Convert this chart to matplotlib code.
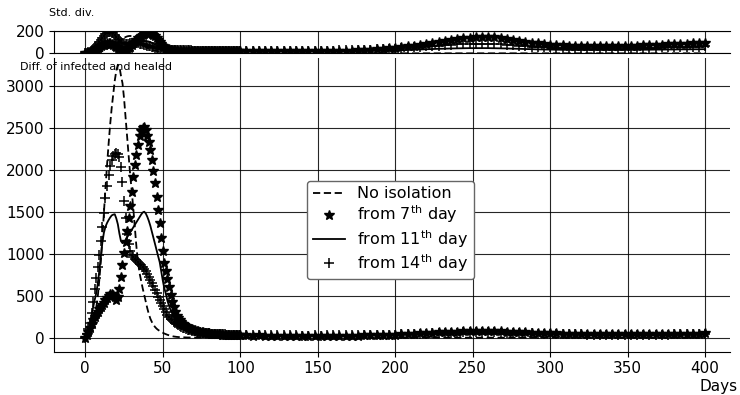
import matplotlib
matplotlib.use("Agg")
import matplotlib.pyplot as plt
import numpy as np

# days: every day up to 99, then every 4th day up to 400
days_early = list(range(0, 100))
days_late = list(range(100, 401, 4))

labels = ["No isolation", r"from 7$^{\rm th}$ day", r"from 11$^{\rm th}$ day", r"from 14$^{\rm th}$ day"]

# ---- difference of infected and healed (mean) ----
diff_none = [
    0, 15, 35, 65, 110, 170, 250, 350, 480, 680,
    900, 1200, 1500, 1780, 2050, 2300, 2530, 2730, 2900, 3060,
    3180, 3250, 3230, 3120, 3030, 2850, 2620, 2380, 2150, 1930,
    1740, 1530, 1300, 1080, 900, 770, 680, 590, 510, 430,
    350, 280, 225, 185, 152, 127, 107, 92, 80, 68,
    58, 49, 41, 34, 28, 23, 18, 14, 11, 9,
    7, 6, 5, 4, 3, 3, 2, 2, 2, 1,
    1, 1, 1, 1, 1, 1, 1, 1, 1, 1,
    0, 0, 0, 0, 0, 0, 0, 0, 0, 0,
    0, 0, 0, 0, 0, 0, 0, 0, 0, 0,
]
diff_none_late = [
    0, 0, 0, 0, 0, 0, 0, 0, 0, 0,
    0, 0, 0, 0, 0, 0, 0, 0, 0, 0,
    0, 0, 0, 0, 0, 0, 0, 0, 0, 0,
    0, 0, 0, 0, 0, 0, 0, 0, 0, 0,
    0, 0, 0, 0, 0, 0, 0, 0, 0, 0,
    0, 0, 0, 0, 0, 0, 0, 0, 0, 0,
    0, 0, 0, 0, 0, 0, 0, 0, 0, 0,
    0, 0, 0, 0, 0, 0,
]

diff_7th = [
    0, 30, 70, 115, 160, 205, 245, 280, 310, 340,
    365, 390, 415, 445, 475, 500, 520, 525, 510, 480,
    450, 490, 580, 720, 870, 1010, 1140, 1270, 1420, 1570,
    1740, 1910, 2060, 2180, 2300, 2400, 2460, 2500, 2510, 2470,
    2400, 2330, 2240, 2120, 1990, 1840, 1680, 1520, 1360, 1190,
    1030, 890, 790, 700, 600, 510, 430, 360, 305, 262,
    230, 206, 186, 168, 153, 140, 128, 118, 109, 101,
    94, 88, 82, 77, 72, 68, 64, 60, 57, 54,
    51, 49, 47, 45, 43, 41, 40, 38, 37, 36,
    35, 34, 33, 32, 31, 30, 30, 29, 29, 28,
]
diff_7th_late = [
    28, 27, 25, 26, 24, 25, 23, 24, 22, 23,
    22, 23, 21, 22, 23, 22, 24, 23, 25, 24,
    26, 27, 29, 31, 33, 36, 39, 42, 46, 50,
    54, 58, 62, 66, 70, 73, 76, 78, 79, 80,
    79, 77, 75, 72, 69, 66, 63, 60, 57, 55,
    53, 51, 49, 48, 46, 45, 44, 43, 42, 42,
    41, 41, 40, 41, 40, 41, 42, 42, 43, 44,
    45, 46, 47, 48, 49, 50,
]

diff_11th = [
    0, 40, 100, 180, 270, 360, 445, 525, 640, 790,
    960, 1130, 1250, 1320, 1365, 1400, 1430, 1455, 1465, 1470,
    1420, 1350, 1240, 1150, 1125, 1140, 1165, 1195, 1225, 1255,
    1285, 1315, 1345, 1375, 1405, 1435, 1465, 1490, 1500, 1480,
    1440, 1390, 1330, 1260, 1190, 1115, 1040, 970, 900, 790,
    680, 590, 520, 440, 380, 330, 290, 262, 240, 220,
    202, 186, 171, 157, 145, 134, 124, 115, 107, 100,
    94, 88, 83, 78, 74, 70, 66, 63, 60, 57,
    54, 52, 50, 48, 46, 44, 42, 41, 40, 38,
    37, 36, 35, 34, 33, 32, 31, 31, 30, 30,
]
diff_11th_late = [
    30, 29, 28, 27, 27, 26, 25, 25, 24, 24,
    23, 23, 24, 23, 24, 24, 25, 24, 25, 25,
    26, 27, 28, 29, 30, 31, 33, 34, 36, 37,
    39, 40, 42, 43, 44, 45, 46, 46, 47, 47,
    46, 46, 45, 44, 43, 42, 41, 40, 39, 38,
    37, 36, 35, 35, 34, 33, 33, 32, 32, 31,
    31, 31, 30, 30, 30, 31, 31, 31, 32, 32,
    32, 33, 33, 34, 34, 35,
]

diff_14th = [
    0, 40, 100, 180, 290, 430, 580, 710, 840, 990,
    1150, 1320, 1490, 1660, 1810, 1940, 2040, 2110, 2160, 2190,
    2200, 2185, 2150, 2030, 1850, 1630, 1420, 1240, 1110, 1030,
    990, 960, 940, 920, 900, 880, 860, 840, 815, 790,
    760, 725, 690, 650, 610, 570, 530, 490, 450, 410,
    375, 340, 305, 275, 250, 228, 208, 190, 174, 160,
    148, 137, 127, 118, 110, 103, 97, 92, 87, 82,
    78, 74, 70, 67, 64, 61, 58, 56, 54, 52,
    50, 48, 46, 45, 44, 43, 42, 41, 40, 39,
    38, 37, 36, 35, 35, 34, 34, 33, 33, 32,
]
diff_14th_late = [
    32, 31, 30, 29, 29, 28, 27, 27, 26, 26,
    25, 25, 26, 25, 26, 27, 26, 27, 28, 28,
    29, 30, 32, 33, 35, 37, 39, 41, 43, 46,
    48, 51, 54, 57, 59, 61, 63, 64, 65, 65,
    64, 63, 61, 59, 57, 54, 52, 50, 48, 46,
    44, 43, 41, 40, 39, 38, 37, 36, 36, 35,
    35, 34, 34, 35, 34, 35, 35, 36, 36, 37,
    38, 38, 39, 40, 40, 41,
]

# ---- standard deviation ----
std_none = [
    0, 0, 0, 0, 0, 1, 2, 4, 7, 10,
    14, 19, 25, 32, 40, 48, 56, 64, 72, 80,
    88, 97, 106, 116, 126, 136, 144, 150, 153, 154,
    151, 145, 136, 124, 111, 98, 86, 75, 65, 56,
    48, 42, 37, 32, 28, 24, 21, 18, 15, 13,
    11, 9, 8, 7, 6, 5, 4, 3, 3, 2,
    2, 2, 1, 1, 1, 1, 1, 1, 1, 1,
    0, 0, 0, 0, 0, 0, 0, 0, 0, 0,
    0, 0, 0, 0, 0, 0, 0, 0, 0, 0,
    0, 0, 0, 0, 0, 0, 0, 0, 0, 0,
]
std_none_late = list(diff_none_late)

std_7th = [
    0, 2, 5, 9, 14, 20, 27, 35, 44, 53,
    62, 70, 77, 83, 87, 89, 88, 84, 77, 66,
    55, 45, 38, 33, 30, 30, 32, 38, 48, 60,
    74, 89, 104, 119, 133, 146, 157, 166, 173, 178,
    180, 180, 177, 171, 162, 150, 135, 118, 100, 83,
    68, 56, 46, 39, 34, 30, 28, 27, 26, 25,
    25, 24, 24, 24, 23, 23, 23, 23, 23, 22,
    22, 22, 21, 22, 22, 21, 22, 22, 21, 22,
    22, 21, 22, 22, 22, 21, 22, 22, 22, 21,
    22, 22, 21, 22, 22, 22, 21, 22, 22, 22,
]
std_7th_late = [
    22, 22, 21, 21, 20, 20, 20, 19, 19, 19,
    19, 19, 20, 20, 21, 21, 22, 23, 24, 26,
    28, 31, 34, 38, 43, 48, 54, 61, 68, 76,
    84, 93, 101, 110, 118, 126, 133, 139, 143, 145,
    144, 141, 136, 129, 121, 112, 103, 95, 88, 82,
    77, 73, 70, 68, 66, 65, 64, 64, 64, 65,
    65, 66, 67, 68, 69, 71, 73, 75, 77, 79,
    81, 84, 86, 89, 91, 94,
]

std_11th = [
    0, 3, 7, 12, 18, 25, 32, 40, 48, 56,
    64, 72, 79, 85, 90, 94, 97, 98, 97, 93,
    87, 80, 73, 67, 63, 61, 61, 63, 66, 70,
    74, 79, 84, 89, 94, 98, 102, 105, 107, 108,
    107, 104, 99, 93, 86, 78, 70, 62, 54, 47,
    41, 36, 32, 29, 27, 25, 24, 23, 22, 21,
    21, 20, 20, 20, 19, 19, 19, 19, 19, 19,
    19, 18, 18, 18, 18, 18, 18, 18, 18, 18,
    18, 18, 18, 17, 18, 18, 18, 17, 18, 18,
    18, 17, 18, 18, 18, 17, 18, 18, 18, 18,
]
std_11th_late = [
    18, 18, 18, 17, 17, 17, 17, 17, 17, 17,
    17, 17, 17, 18, 18, 18, 19, 19, 20, 20,
    21, 22, 23, 24, 25, 27, 28, 30, 32, 34,
    36, 38, 40, 41, 43, 44, 45, 46, 46, 46,
    46, 45, 44, 43, 41, 40, 38, 37, 35, 34,
    33, 32, 31, 31, 30, 30, 30, 30, 30, 30,
    30, 30, 31, 31, 31, 32, 32, 33, 33, 34,
    34, 35, 35, 36, 36, 37,
]

std_14th = [
    0, 3, 8, 15, 25, 38, 52, 68, 85, 102,
    120, 138, 155, 170, 182, 189, 190, 186, 176, 162,
    146, 130, 116, 104, 95, 89, 86, 85, 86, 88,
    90, 91, 91, 90, 88, 86, 83, 80, 77, 73,
    69, 65, 61, 57, 53, 50, 47, 44, 41, 39,
    37, 35, 34, 33, 32, 31, 30, 29, 29, 28,
    28, 28, 27, 27, 27, 26, 26, 26, 26, 25,
    25, 25, 25, 25, 25, 25, 25, 24, 24, 24,
    24, 24, 24, 24, 24, 24, 24, 24, 25, 25,
    25, 25, 25, 25, 25, 25, 25, 25, 25, 25,
]
std_14th_late = [
    25, 25, 24, 24, 24, 23, 23, 23, 23, 23,
    23, 23, 23, 24, 24, 25, 26, 27, 28, 29,
    30, 32, 34, 36, 39, 42, 45, 49, 53, 57,
    61, 65, 69, 73, 76, 79, 82, 84, 85, 85,
    84, 82, 79, 76, 72, 68, 64, 60, 57, 54,
    52, 50, 48, 47, 46, 45, 45, 44, 44, 44,
    44, 45, 45, 46, 47, 48, 49, 50, 52, 53,
    54, 56, 57, 59, 60, 62,
]

STYLES = [
    dict(ls="--", lw=1.3, color="k", dashes=(4, 2)),
    dict(ls="none", marker="*", ms=7, color="k"),
    dict(ls="-", lw=1.3, color="k"),
    dict(ls="none", marker="+", ms=6.5, mew=1.1, color="k"),
]


def style_axis(ax, spines):
    for name in ("top", "right", "bottom", "left"):
        ax.spines[name].set_visible(name in spines)
        ax.spines[name].set_color("k")
    ax.grid(True, color="k", lw=0.8, alpha=0.85)
    ax.set_axisbelow(True)
    ax.tick_params(labelsize=11, colors="k")


def main():
    days = np.array(days_early + days_late)
    means = [diff_none + diff_none_late, diff_7th + diff_7th_late,
             diff_11th + diff_11th_late, diff_14th + diff_14th_late]
    stds = [std_none + std_none_late, std_7th + std_7th_late,
            std_11th + std_11th_late, std_14th + std_14th_late]

    fig = plt.figure(figsize=(7.4, 3.95), dpi=100)
    ax_std = fig.add_axes([0.0734, 0.865, 0.913, 0.0572])
    ax = fig.add_axes([0.0734, 0.1101, 0.913, 0.743], sharex=ax_std)

    for values, lab, st in zip(stds, labels, STYLES):
        ax_std.plot(days, values, label=lab, **st)
    for values, lab, st in zip(means, labels, STYLES):
        ax.plot(days, values, label=lab, **st)

    style_axis(ax_std, ("top", "bottom", "left"))
    ax_std.set_ylim(0, 200)
    ax_std.set_yticks([0, 200])
    ax_std.tick_params(axis="x", labelbottom=False, length=0)

    style_axis(ax, ("bottom", "left"))
    ax.set_xlim(-20, 416)
    ax.set_ylim(-165, 3330)
    ax.set_xticks(np.arange(0, 401, 50))
    ax.set_yticks(np.arange(0, 3001, 500))
    ax.set_xlabel("Days", fontsize=11, loc="right")
    ax.xaxis.set_label_coords(1.012, -0.092)

    fig.text(49 / 740, 1 - 13 / 395, "Std. div.", fontsize=8, va="center", ha="left")
    fig.text(20 / 740, 1 - 67 / 395, "Diff. of infected and healed", fontsize=8,
             va="center", ha="left")

    leg = ax.legend(loc="center", bbox_to_anchor=(0.4976, 0.414), fontsize=11.5,
                    numpoints=1, fancybox=True, framealpha=1.0,
                    labelspacing=0.15, borderpad=0.35)
    leg.get_frame().set_edgecolor("0.4")

    fig.savefig("out.png", dpi=100)


if __name__ == "__main__":
    main()
